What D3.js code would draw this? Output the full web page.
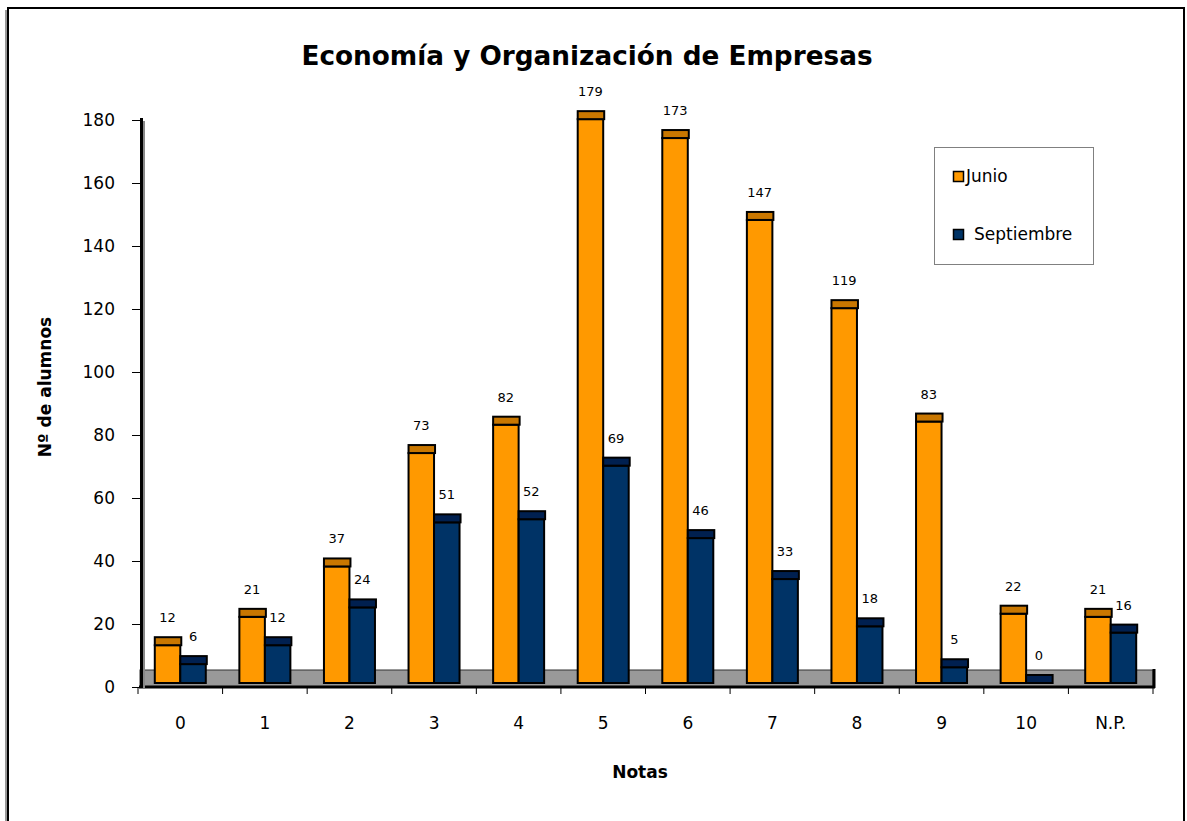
<!DOCTYPE html>
<html><head><meta charset="utf-8">
<script src="https://cdn.jsdelivr.net/npm/d3@7"></script>
<style>body{margin:0;background:#fff}svg{display:block}text{font-family:"DejaVu Sans",sans-serif;fill:#000}</style>
</head><body><svg id="c" width="1187" height="821"></svg>
<script>
const categories = ["0","1","2","3","4","5","6","7","8","9","10","N.P."];
const junio = [12,21,37,73,82,179,173,147,119,83,22,21];
const septiembre = [6,12,24,51,52,69,46,33,18,5,0,16];
const yTicks = [0,20,40,60,80,100,120,140,160,180];
const seriesNames = ["Junio","Septiembre"];
const colors = {front:["#FF9900","#003366"], cap:["#C97700","#002050"]};

const svg = d3.select("#c");
// outer border
svg.append("rect").attr("x",8).attr("y",8).attr("width",1176).attr("height",830)
  .attr("fill","none").attr("stroke","#000").attr("stroke-width",2);
svg.append("line").attr("x1",6).attr("x2",6).attr("y1",10).attr("y2",821).attr("stroke","#999").attr("stroke-width",2);

const x = d3.scaleBand().domain(categories).range([138,1153]);
const y = d3.scaleLinear().domain([0,180]).range([687,120]);
const depth = 8, lift = 4, bw = 25.5;

// title
svg.append("text").attr("x",587).attr("y",65).attr("text-anchor","middle")
  .attr("font-size",26.3).attr("font-weight","bold").text("Economía y Organización de Empresas");

// floor
svg.append("rect").attr("x",140).attr("y",670).attr("width",1013).attr("height",17)
  .attr("fill","#999999").attr("stroke","#333").attr("stroke-width",1);
svg.append("line").attr("x1",139).attr("x2",1155).attr("y1",687).attr("y2",687).attr("stroke","#000").attr("stroke-width",3);
svg.append("line").attr("x1",1154).attr("x2",1154).attr("y1",669).attr("y2",688).attr("stroke","#000").attr("stroke-width",3);

// y axis
const yAxis = d3.axisLeft(y).tickValues(yTicks).tickSize(9).tickPadding(17);
const ya = svg.append("g").attr("transform","translate(141,0)").call(yAxis);
ya.select(".domain").remove();
ya.selectAll(".tick line").attr("stroke","#000");
ya.selectAll(".tick text").attr("font-size",17).attr("font-family","DejaVu Sans");
svg.append("line").attr("x1",144).attr("x2",144).attr("y1",121).attr("y2",688).attr("stroke","#888").attr("stroke-width",2);
svg.append("line").attr("x1",141.5).attr("x2",141.5).attr("y1",118).attr("y2",688).attr("stroke","#000").attr("stroke-width",3);

// x axis ticks
const xa = svg.append("g").attr("transform","translate(0,687)")
  .call(d3.axisBottom(x).tickSize(0).tickPadding(30));
xa.select(".domain").remove();
xa.selectAll(".tick text").attr("font-size",17).attr("font-family","DejaVu Sans");
const bounds = categories.map(c=>x(c)).concat([x.range()[1]]);
svg.selectAll(".xt").data(bounds).join("line").attr("class","xt")
  .attr("x1",d=>d).attr("x2",d=>d).attr("y1",687).attr("y2",694).attr("stroke","#000");

// bars
const series = [junio, septiembre];
series.forEach((vals,si)=>{
  const g = svg.append("g");
  vals.forEach((v,i)=>{
    const cx = x(categories[i]) + x.bandwidth()/2;
    const bx = cx - bw + si*bw;
    const top = y(v) - lift, base = y(0) - lift;
    if (base - top > 0.5) {
      g.append("rect").attr("x",bx).attr("y",top).attr("width",bw).attr("height",base-top)
        .attr("fill",colors.front[si]).attr("stroke","#000").attr("stroke-width",2);
    }
    g.append("rect").attr("x",bx).attr("y",top-depth).attr("width",bw+1).attr("height",depth)
      .attr("fill",colors.cap[si]).attr("stroke","#000").attr("stroke-width",2);
    svg.append("text").attr("x",bx+bw/2).attr("y",y(v)-27).attr("text-anchor","middle")
      .attr("font-size",13).text(v);
  });
});

// axis titles
svg.append("text").attr("x",640).attr("y",778).attr("text-anchor","middle")
  .attr("font-size",17).attr("font-weight","bold").text("Notas");
svg.append("text").attr("transform","translate(51,387) rotate(-90)").attr("text-anchor","middle")
  .attr("font-size",17).attr("font-weight","bold").text("Nº de alumnos");

// legend
const lg = svg.append("g");
lg.append("rect").attr("x",934.5).attr("y",147.5).attr("width",159).attr("height",117)
  .attr("fill","#fff").attr("stroke","#808080").attr("stroke-width",1);
const lgY = [171,229], lgTx=[966,974];
seriesNames.forEach((n,i)=>{
  lg.append("rect").attr("x",953.5).attr("y",lgY[i]+0.5).attr("width",10).attr("height",10)
    .attr("fill",colors.front[i]).attr("stroke","#000").attr("stroke-width",1.5);
  lg.append("text").attr("x",lgTx[i]).attr("y",lgY[i]+11).attr("font-size",17).text(n);
});
</script></body></html>
